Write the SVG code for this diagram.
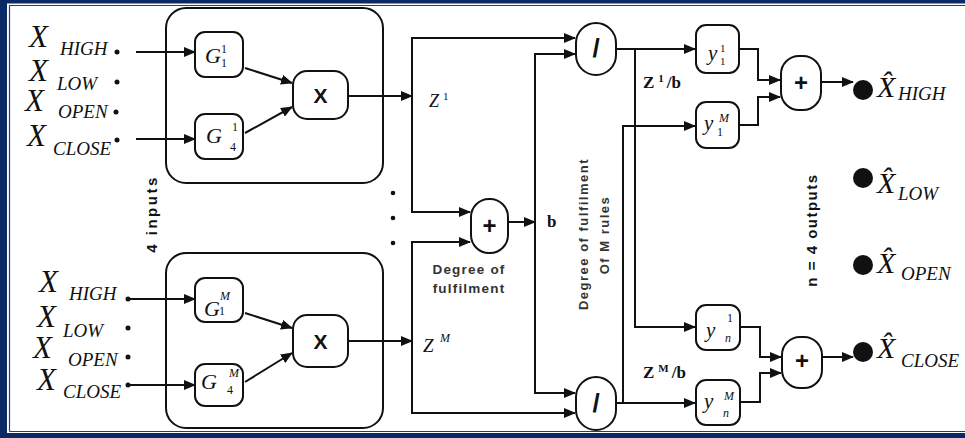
<svg xmlns="http://www.w3.org/2000/svg" width="965" height="438" viewBox="0 0 965 438">
<defs>
<marker id="ah" markerUnits="userSpaceOnUse" markerWidth="12" markerHeight="10" refX="11" refY="5" orient="auto">
<path d="M0,0 L12,5 L0,10 z" fill="#111"/>
</marker>
<style>
.bx{fill:#fff;stroke:#111;stroke-width:2}
.cont{fill:none;stroke:#111;stroke-width:2}
.ar{fill:none;stroke:#111;stroke-width:2;marker-end:url(#ah)}
.var{font-family:"Liberation Serif","Times New Roman",serif;font-style:italic;fill:#111}
.up{font-style:normal}
.bs{font-family:"Liberation Sans",Arial,sans-serif;font-weight:bold;fill:#111}
.lbl{font-family:"Liberation Sans",Arial,sans-serif;font-weight:bold;fill:#333}
.bser{font-family:"Liberation Serif","Times New Roman",serif;font-weight:bold;fill:#111}
.dot{fill:#111}
</style>
</defs>
<rect width="965" height="438" fill="#fff"/>
<g id="frame">
<rect x="0" y="0" width="965" height="3.5" fill="#0a2a66"/>
<rect x="0" y="0" width="7" height="438" fill="#0a2a66"/>
<rect x="0" y="433" width="965" height="5" fill="#0a2a66"/>
<path d="M9.5,431.5 V5.5 H965 M9.5,431.5 H965" fill="none" stroke="#1f3f7a" stroke-width="1.2"/>
</g>

<g id="inputs-upper">
<text class="var" font-size="31"><tspan x="29" y="47">X</tspan><tspan x="60" y="55" font-size="19">HIGH</tspan><tspan x="29" y="81">X</tspan><tspan x="57" y="90" font-size="19">LOW</tspan><tspan x="25" y="111">X</tspan><tspan x="58" y="118" font-size="19">OPEN</tspan><tspan x="27" y="146">X</tspan><tspan x="53" y="155" font-size="19">CLOSE</tspan></text>
<circle class="dot" cx="117" cy="52" r="2.5"/><circle class="dot" cx="117" cy="82" r="2.5"/><circle class="dot" cx="116" cy="112" r="2.5"/><circle class="dot" cx="117" cy="140" r="2.5"/>
</g>
<g id="inputs-lower">
<text class="var" font-size="31"><tspan x="39" y="292">X</tspan><tspan x="69" y="300" font-size="19">HIGH</tspan><tspan x="37" y="327">X</tspan><tspan x="63" y="337" font-size="19">LOW</tspan><tspan x="33" y="358">X</tspan><tspan x="68" y="366" font-size="19">OPEN</tspan><tspan x="37" y="390">X</tspan><tspan x="63" y="398" font-size="19">CLOSE</tspan></text>
<circle class="dot" cx="128" cy="299" r="2.5"/><circle class="dot" cx="128" cy="328" r="2.5"/><circle class="dot" cx="128" cy="357" r="2.5"/><circle class="dot" cx="128" cy="385" r="2.5"/>
</g>

<g id="rule-block-1">
<rect class="cont" x="166" y="8" width="217" height="175" rx="20"/>
</g>
<g id="rule-block-M">
<rect class="cont" x="166" y="253" width="217" height="175" rx="20"/>
</g>

<g id="G11"><rect class="bx" x="195" y="32" width="48" height="45" rx="10"/>
<text class="var" font-size="22"><tspan x="205" y="63">G</tspan><tspan class="up" x="221" y="53" font-size="12">1</tspan><tspan class="up" x="221" y="67" font-size="12">1</tspan></text></g>
<g id="G41"><rect class="bx" x="195" y="114" width="48" height="45" rx="10"/>
<text class="var" font-size="22"><tspan x="206" y="143">G</tspan><tspan class="up" x="232" y="131" font-size="12">1</tspan><tspan class="up" x="230" y="151" font-size="12">4</tspan></text></g>
<g id="X1"><rect class="bx" x="293" y="71" width="55" height="48" rx="14"/>
<text class="bs" x="320.5" y="103" font-size="21" text-anchor="middle">X</text></g>

<g id="G1M"><rect class="bx" x="195" y="278" width="48" height="44" rx="10"/>
<text class="var" font-size="22"><tspan x="204" y="316">G</tspan><tspan x="220" y="300" font-size="12">M</tspan><tspan class="up" x="219" y="315" font-size="12">1</tspan></text></g>
<g id="G4M"><rect class="bx" x="195" y="364" width="48" height="42" rx="10"/>
<text class="var" font-size="22"><tspan x="201" y="389">G</tspan><tspan x="229" y="377" font-size="12">M</tspan><tspan class="up" x="227" y="394" font-size="12">4</tspan></text></g>
<g id="XM"><rect class="bx" x="293" y="315" width="55" height="52" rx="14"/>
<text class="bs" x="320.5" y="349" font-size="21" text-anchor="middle">X</text></g>

<g id="sum-b"><rect class="bx" x="471" y="199" width="37" height="54" rx="18"/>
<text class="bs" x="489.5" y="234" font-size="24" text-anchor="middle">+</text></g>

<g id="div1"><rect class="bx" x="576" y="23" width="40" height="52" rx="20"/>
<text class="bs" x="596" y="57" font-size="26" text-anchor="middle">/</text></g>
<g id="divM"><rect class="bx" x="576" y="377" width="40" height="53" rx="20"/>
<text class="bs" x="596" y="412" font-size="26" text-anchor="middle">/</text></g>

<g id="y11"><rect class="bx" x="696" y="25" width="43" height="48" rx="10"/>
<text class="var" font-size="21"><tspan x="708" y="60">y</tspan><tspan class="up" x="720" y="52" font-size="11">1</tspan><tspan class="up" x="720" y="65" font-size="11">1</tspan></text></g>
<g id="y1M"><rect class="bx" x="696" y="102" width="43" height="46" rx="10"/>
<text class="var" font-size="21"><tspan x="704" y="130">y</tspan><tspan x="719" y="122" font-size="12">M</tspan><tspan class="up" x="717" y="136" font-size="12">1</tspan></text></g>
<g id="yn1"><rect class="bx" x="696" y="305" width="44" height="45" rx="10"/>
<text class="var" font-size="21"><tspan x="706" y="337">y</tspan><tspan class="up" x="727" y="322" font-size="12">1</tspan><tspan x="725" y="342" font-size="12">n</tspan></text></g>
<g id="ynM"><rect class="bx" x="696" y="380" width="44" height="45" rx="10"/>
<text class="var" font-size="21"><tspan x="704" y="408">y</tspan><tspan x="724" y="400" font-size="12">M</tspan><tspan x="723" y="417" font-size="12">n</tspan></text></g>

<g id="sum-high"><rect class="bx" x="781" y="56" width="40" height="54" rx="18"/>
<text class="bs" x="801" y="91" font-size="24" text-anchor="middle">+</text></g>
<g id="sum-close"><rect class="bx" x="782" y="337" width="40" height="51" rx="18"/>
<text class="bs" x="802" y="369" font-size="24" text-anchor="middle">+</text></g>

<g id="outputs">
<circle class="dot" cx="863" cy="90" r="10"/>
<text class="var" x="877" y="97" font-size="30">X&#x302;<tspan x="898" y="100" font-size="19">HIGH</tspan></text>
<circle class="dot" cx="863" cy="178" r="10"/>
<text class="var" x="877" y="193" font-size="30">X&#x302;<tspan x="898" y="200" font-size="19">LOW</tspan></text>
<circle class="dot" cx="863" cy="265" r="10"/>
<text class="var" x="877" y="273" font-size="30">X&#x302;<tspan x="901" y="280" font-size="19">OPEN</tspan></text>
<circle class="dot" cx="863" cy="352" r="10"/>
<text class="var" x="877" y="358" font-size="30">X&#x302;<tspan x="901" y="367" font-size="19">CLOSE</tspan></text>
</g>

<g id="connectors">
<path class="ar" d="M136,52 H195"/>
<path class="ar" d="M136,139 H195"/>
<path class="ar" d="M245,68 L292,83"/>
<path class="ar" d="M245,133 L292,107"/>
<path class="ar" d="M128,299 H195"/>
<path class="ar" d="M128,385 H195"/>
<path class="ar" d="M245,313 L292,328"/>
<path class="ar" d="M245,382 L292,353"/>
<path class="ar" d="M348,96 H412"/>
<path class="ar" d="M412,96 V38 H575"/>
<path class="ar" d="M412,96 V212 H470"/>
<path class="ar" d="M348,341 H412"/>
<path class="ar" d="M412,341 V242 H470"/>
<path class="ar" d="M412,341 V413 H575"/>
<path class="ar" d="M508,222 H535"/>
<path class="ar" d="M535,222 V54 H575"/>
<path class="ar" d="M535,222 V393 H575"/>
<path class="ar" d="M616,49 H695"/>
<path class="ar" d="M635,49 V327 H695"/>
<path class="ar" d="M616,403 H695"/>
<path class="ar" d="M623,403 V126 H695"/>
<path class="ar" d="M739,49 H758 V80 H780"/>
<path class="ar" d="M739,125 H758 V97 H780"/>
<path class="ar" d="M740,327 H760 V357 H781"/>
<path class="ar" d="M740,402 H760 V373 H781"/>
<path class="ar" d="M821,82 H853"/>
<path class="ar" d="M822,357 H853"/>
</g>

<g id="labels">
<circle class="dot" cx="393" cy="193" r="2.3"/>
<circle class="dot" cx="393" cy="218" r="2.3"/>
<circle class="dot" cx="393" cy="243" r="2.3"/>
<text class="var" x="429" y="107" font-size="18">Z<tspan class="up" x="443" y="100" font-size="11">1</tspan></text>
<text class="var" x="423" y="352" font-size="19">Z<tspan x="440" y="342" font-size="12">M</tspan></text>
<text class="bser" x="547" y="227" font-size="17">b</text>
<text class="bser" x="643" y="88" font-size="17">Z<tspan font-size="11" dy="-6" dx="4">1</tspan><tspan dy="6" dx="3">/b</tspan></text>
<text class="bser" x="643" y="378" font-size="17">Z<tspan font-size="11" dy="-6" dx="4">M</tspan><tspan dy="6" dx="3">/b</tspan></text>
<text class="lbl" font-size="13.5" letter-spacing="1.2" text-anchor="middle"><tspan x="469" y="274">Degree of</tspan><tspan x="469" y="293">fulfilment</tspan></text>
<text class="lbl" font-size="13" letter-spacing="1.5" text-anchor="middle" transform="translate(588,234) rotate(-90)">Degree of fulfilment</text>
<text class="lbl" font-size="13" letter-spacing="1.5" text-anchor="middle" transform="translate(609,235) rotate(-90)">Of M rules</text>
<text class="bs" font-size="15" letter-spacing="2.5" text-anchor="middle" transform="translate(157,214) rotate(-90)">4 inputs</text>
<text class="bs" font-size="15" letter-spacing="1.5" text-anchor="middle" transform="translate(817,230) rotate(-90)">n = 4 outputs</text>
</g>
</svg>
